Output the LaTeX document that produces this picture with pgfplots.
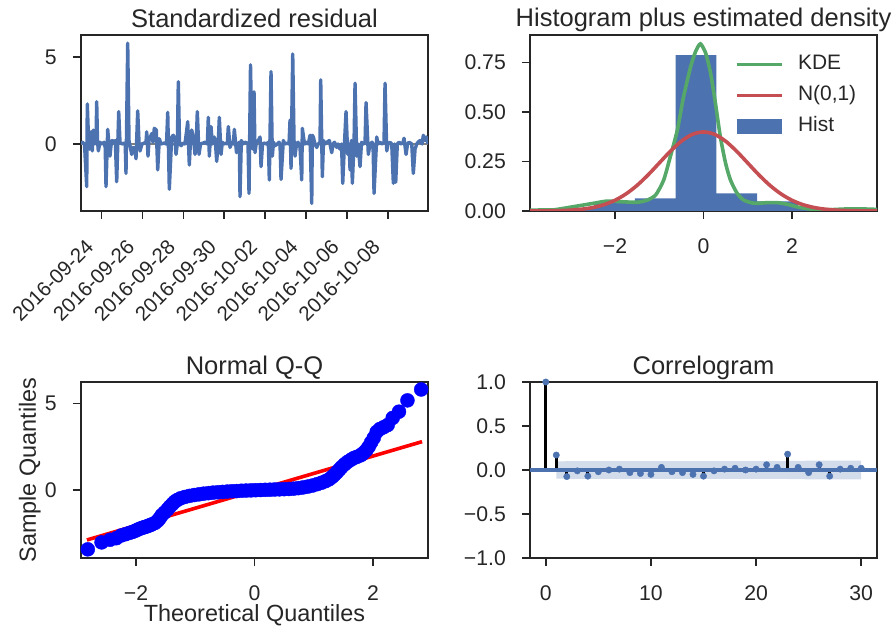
\documentclass[border=0pt]{standalone}
\usepackage{pgfplots}
\pgfplotsset{compat=1.18}
\usepackage{pgfplotstable}
\usepackage{fontspec}
\setmainfont{Liberation Sans}
\definecolor{sbblue}{HTML}{4C72B0}
\definecolor{sbgreen}{HTML}{55A868}
\definecolor{sbred}{HTML}{C44E52}
\definecolor{txt}{HTML}{262626}

\pgfplotstableread{
x y
0.000 0.00
0.064 0.10
0.171 0.00
0.279 -2.45
0.308 2.30
0.367 0.30
0.425 -0.30
0.489 0.70
0.552 -0.40
0.601 0.80
0.660 0.00
0.733 0.10
0.767 2.43
0.806 0.20
0.846 -0.40
0.929 0.10
1.026 0.00
1.124 0.10
1.183 -0.20
1.222 -2.45
1.305 0.84
1.359 0.10
1.417 -0.70
1.466 -0.10
1.530 0.20
1.613 0.10
1.676 0.20
1.745 -2.17
1.843 1.86
1.906 0.10
2.004 0.00
2.102 0.05
2.160 0.00
2.199 -1.69
2.283 5.79
2.346 0.20
2.478 -0.60
2.556 -0.20
2.639 -0.30
2.688 -0.85
2.771 1.90
2.835 0.10
2.884 -0.40
2.981 0.00
3.079 0.05
3.177 0.10
3.211 0.70
3.275 -0.70
3.324 0.20
3.456 0.60
3.519 0.10
3.583 0.90
3.680 0.80
3.749 -1.49
3.827 0.30
3.910 0.00
4.057 0.05
4.179 0.00
4.238 1.82
4.316 -2.60
4.433 0.40
4.511 0.50
4.594 0.30
4.643 -0.60
4.707 0.00
4.756 3.58
4.814 0.10
4.888 -0.10
4.985 0.05
5.083 0.00
5.215 1.28
5.293 -1.21
5.352 0.20
5.411 0.80
5.489 0.40
5.572 -0.60
5.635 0.20
5.684 1.86
5.767 -0.60
5.841 0.00
5.963 0.05
6.061 0.10
6.173 0.00
6.222 1.53
6.271 -0.70
6.354 1.00
6.417 0.00
6.515 0.40
6.574 0.00
6.632 -1.00
6.711 0.20
6.760 1.53
6.843 -0.60
6.906 0.10
6.989 0.00
7.087 0.05
7.151 0.00
7.199 1.00
7.283 -0.20
7.380 0.10
7.444 0.00
7.493 0.84
7.600 -0.50
7.688 0.00
7.737 0.10
7.771 -3.03
7.835 0.20
7.918 0.00
8.016 0.10
8.113 0.05
8.162 0.00
8.211 -2.84
8.284 4.54
8.358 0.00
8.407 -0.30
8.456 3.00
8.504 -0.50
8.568 0.10
8.666 0.20
8.749 0.40
8.798 -1.30
8.871 0.00
8.944 0.05
9.076 0.00
9.154 0.10
9.203 -2.07
9.286 4.16
9.350 -0.70
9.409 0.10
9.482 -0.10
9.594 0.00
9.677 0.10
9.726 0.00
9.775 -2.04
9.888 0.20
9.971 0.00
10.068 0.05
10.166 0.00
10.215 1.37
10.264 -1.40
10.347 5.17
10.411 0.20
10.459 -0.70
10.533 0.00
10.606 0.10
10.704 -0.20
10.787 -2.07
10.816 0.90
10.899 0.20
10.948 0.00
11.046 0.10
11.109 0.00
11.193 0.50
11.276 -3.41
11.305 0.50
11.354 0.40
11.437 0.00
11.520 -0.20
11.598 0.00
11.681 0.10
11.715 3.68
11.794 -1.88
11.852 0.20
11.926 0.00
12.023 0.10
12.136 0.20
12.253 -0.50
12.317 0.00
12.390 0.10
12.497 -0.20
12.561 0.00
12.659 -0.30
12.732 0.00
12.791 -2.26
12.879 0.10
12.952 1.86
13.035 -0.60
13.099 0.00
13.148 -1.49
13.211 0.20
13.260 -2.26
13.343 0.00
13.392 3.49
13.475 -0.70
13.539 0.00
13.636 -1.30
13.710 0.10
13.783 0.00
13.881 0.05
13.930 2.38
14.042 -0.60
14.125 0.00
14.223 0.10
14.272 0.00
14.321 -2.84
14.453 0.40
14.516 0.00
14.614 0.10
14.712 0.00
14.809 0.10
14.858 3.49
14.942 -0.40
15.005 0.00
15.103 0.10
15.186 0.00
15.264 -2.26
15.323 0.00
15.381 -2.20
15.459 0.00
15.543 0.10
15.640 0.00
15.738 0.10
15.787 0.33
15.885 -0.60
15.958 0.00
16.031 0.10
16.163 0.00
16.241 -1.69
16.325 -0.30
16.408 0.00
16.471 0.10
16.569 0.20
16.667 0.00
16.730 0.50
16.813 0.20
16.877 0.40
16.945 0.10
16.958 0.00
}\resid

\pgfplotstableread{
x y
-2.815 -3.42
-2.583 -3.02
-2.440 -2.87
-2.334 -2.78
-2.250 -2.62
-2.180 -2.55
-2.118 -2.48
-2.063 -2.42
-2.013 -2.35
-1.970 -2.28
-1.929 -2.22
-1.891 -2.17
-1.855 -2.14
-1.822 -2.10
-1.791 -2.06
-1.761 -2.02
-1.733 -1.98
-1.680 -1.90
-1.632 -1.76
-1.600 -1.62
-1.566 -1.45
-1.520 -1.30
-1.469 -1.12
-1.430 -0.96
-1.384 -0.80
-1.350 -0.68
-1.308 -0.58
-1.250 -0.48
-1.176 -0.40
-1.100 -0.34
-1.020 -0.29
-0.940 -0.25
-0.860 -0.21
-0.780 -0.18
-0.700 -0.15
-0.620 -0.13
-0.540 -0.11
-0.460 -0.09
-0.380 -0.07
-0.300 -0.06
-0.220 -0.04
-0.140 -0.03
-0.060 -0.02
0.020 -0.01
0.100 0.00
0.180 0.01
0.260 0.02
0.340 0.03
0.420 0.04
0.500 0.05
0.580 0.06
0.660 0.08
0.740 0.11
0.820 0.15
0.900 0.20
0.980 0.26
1.060 0.34
1.130 0.42
1.200 0.51
1.260 0.62
1.310 0.75
1.350 0.88
1.390 1.02
1.430 1.17
1.470 1.32
1.520 1.48
1.570 1.62
1.630 1.75
1.680 1.85
1.733 1.92
1.791 2.00
1.822 2.08
1.855 2.18
1.891 2.31
1.929 2.50
1.970 2.75
2.013 3.00
2.063 3.35
2.118 3.52
2.180 3.62
2.250 3.75
2.334 4.16
2.440 4.52
2.583 5.17
2.815 5.80
}\qq

\pgfplotstableread{
x y
-3.92 0.004
-3.68 0.005
-3.38 0.006
-2.93 0.022
-2.48 0.039
-2.18 0.050
-1.88 0.047
-1.50 0.044
-1.27 0.055
-1.08 0.081
-0.90 0.156
-0.75 0.274
-0.59 0.409
-0.45 0.577
-0.29 0.728
-0.18 0.804
-0.07 0.843
0.05 0.796
0.16 0.695
0.27 0.543
0.38 0.375
0.50 0.240
0.61 0.156
0.76 0.089
0.91 0.055
1.14 0.039
1.44 0.042
1.67 0.042
1.89 0.034
2.19 0.017
2.57 0.006
2.90 0.007
3.20 0.010
3.50 0.011
3.92 0.008
}\kde

\pgfplotstableread{
x y
-3.92 0.0002
-3.75 0.0004
-3.50 0.0009
-3.25 0.0020
-3.00 0.0044
-2.75 0.0091
-2.50 0.0175
-2.25 0.0317
-2.00 0.0540
-1.75 0.0863
-1.50 0.1295
-1.25 0.1826
-1.00 0.2420
-0.75 0.3011
-0.50 0.3521
-0.25 0.3867
0.00 0.3989
0.25 0.3867
0.50 0.3521
0.75 0.3011
1.00 0.2420
1.25 0.1826
1.50 0.1295
1.75 0.0863
2.00 0.0540
2.25 0.0317
2.50 0.0175
2.75 0.0091
3.00 0.0044
3.25 0.0020
3.50 0.0009
3.75 0.0004
3.92 0.0002
}\norm

\pgfplotstableread{
lag acf
0 1.00
1 0.17
2 -0.075
3 -0.01
4 -0.07
5 -0.02
6 0.00
7 0.01
8 -0.03
9 -0.04
10 -0.05
11 0.03
12 -0.02
13 -0.03
14 -0.05
15 -0.07
16 -0.01
17 0.01
18 0.02
19 0.00
20 0.01
21 0.06
22 0.03
23 0.18
24 0.03
25 -0.03
26 0.06
27 -0.07
28 0.01
29 0.02
30 0.02
}\acf

\pgfplotsset{
  lineleg/.style={legend image code/.code={\draw[##1] (0bp,0bp) -- (45bp,0bp); \path (58bp,0bp);}},
  boxleg/.style={legend image code/.code={\fill[##1] (0bp,-7.5bp) rectangle (45bp,7.5bp); \path (58bp,0bp);}},
  diag/.style={
    scale only axis, width=347bp, height=176bp, anchor=south west,
    axis line style={txt, line width=1.6bp},
    tick style={txt, line width=1.6bp},
    major tick length=8bp,
    tick align=outside,
    xtick pos=lower, ytick pos=left,
    tick label style={font=\fontsize{21.3}{25}\selectfont, text=txt},
    yticklabel style={anchor=east, inner sep=0pt, xshift=-16bp},
    every axis title/.style={at={(axis description cs:0.5,1)}, anchor=base, yshift=8bp,
      font=\fontsize{25.6}{30}\selectfont, text=txt},
    every axis x label/.style={at={(axis description cs:0.5,0)}, anchor=base, yshift=-63.5bp,
      font=\fontsize{23.5}{28}\selectfont, text=txt},
    every axis y label/.style={at={([xshift=-45bp]axis description cs:0,0.5)}, anchor=base, rotate=90,
      font=\fontsize{23.5}{28}\selectfont, text=txt},
  }
}

\begin{document}
\begin{tikzpicture}
\useasboundingbox (0,0) rectangle (894bp,628bp);

% Standardized residual
\begin{axis}[diag, at={(81bp,417bp)},
  title={Standardized residual},
  xmin=0, xmax=16.958, ymin=-3.85, ymax=6.26,
  xtick={1,3,5,7,9,11,13,15},
  xticklabels={2016-09-24,2016-09-26,2016-09-28,2016-09-30,2016-10-02,2016-10-04,2016-10-06,2016-10-08},
  xticklabel style={font=\fontsize{20.5}{24}\selectfont, xshift=-16.9bp, yshift=-19.3bp, rotate=45, anchor=north east, inner sep=0pt},
  ytick={0,5}, yticklabels={0,5},
]
\addplot[gray, line width=2.4bp] coordinates {(0,0) (16.958,0)};
\addplot[sbblue, line width=3.4bp, line join=round] table[x=x, y=y] {\resid};
\end{axis}

% Histogram plus estimated density
\begin{axis}[diag, at={(530bp,417bp)},
  title={Histogram plus estimated density},
  xmin=-3.92, xmax=3.92, ymin=0, ymax=0.888,
  xtick={-2,0,2}, xticklabels={−2,0,2},
  xticklabel style={anchor=north, inner sep=0pt, yshift=-19bp},
  ytick={0,0.25,0.5,0.75}, yticklabels={0.00,0.25,0.50,0.75},
  legend style={draw=none, fill=none, at={(0.583,0.905)}, anchor=north west,
    font=\fontsize{21}{25}\selectfont, text=txt, row sep=10bp,
    nodes={inner sep=1bp, text height=15bp, text depth=4bp}},
  legend cell align=left,
]
\addplot[ybar interval, fill=sbblue, draw=none, forget plot] coordinates {
  (-3.39,0.013) (-2.47,0.044) (-1.55,0.064) (-0.63,0.787) (0.29,0.089)
  (1.21,0.048) (2.13,0.013) (3.05,0.011) (3.97,0.005) (4.89,0.005) (5.81,0)};
\addplot[sbgreen, line width=3.6bp, smooth, tension=0.4, forget plot] table[x=x, y=y] {\kde};
\addplot[sbred, line width=3.6bp, smooth, forget plot] table[x=x, y=y] {\norm};
\addlegendimage{sbgreen, line width=3.6bp, lineleg}
\addlegendentry{KDE}
\addlegendimage{sbred, line width=3.6bp, lineleg}
\addlegendentry{N(0,1)}
\addlegendimage{fill=sbblue, draw=none, boxleg}
\addlegendentry{Hist}
\end{axis}

% Normal Q-Q
\begin{axis}[diag, at={(81bp,70bp)},
  title={Normal Q-Q},
  xlabel={Theoretical Quantiles}, ylabel={Sample Quantiles},
  xmin=-2.93, xmax=2.93, ymin=-3.92, ymax=6.23,
  xtick={-2,0,2}, xticklabels={−2,0,2},
  xticklabel style={anchor=north, inner sep=0pt, yshift=-19bp},
  ytick={0,5}, yticklabels={0,5},
]
\addplot[only marks, mark=*, mark size=7bp, color=blue, fill=blue] table[x=x, y=y] {\qq};
\addplot[red, line width=3.6bp] coordinates {(-2.83,-2.88) (2.83,2.79)};
\end{axis}

% Correlogram
\begin{axis}[diag, at={(530bp,70bp)},
  title={Correlogram},
  xmin=-1.5, xmax=31.5, ymin=-1, ymax=1,
  xtick={0,10,20,30}, xticklabels={0,10,20,30},
  xticklabel style={anchor=north, inner sep=0pt, yshift=-19bp},
  ytick={-1,-0.5,0,0.5,1}, yticklabels={−1.0,−0.5,0.0,0.5,1.0},
]
\addplot[fill=sbblue, fill opacity=0.25, draw=none] coordinates {
  (1,0.097) (2,0.100) (5,0.100) (10,0.101) (15,0.101) (20,0.102) (23,0.102) (24,0.105) (30,0.106)
  (30,-0.106) (24,-0.105) (23,-0.102) (20,-0.102) (15,-0.101) (10,-0.101) (5,-0.100) (2,-0.100) (1,-0.097)} -- cycle;
\addplot[ycomb, black, line width=2.8bp] table[x=lag, y=acf] {\acf};
\addplot[sbblue, line width=3.2bp] coordinates {(-1.5,0) (31.5,0)};
\addplot[only marks, mark=*, mark size=3.2bp, color=sbblue] table[x=lag, y=acf] {\acf};
\end{axis}
\end{tikzpicture}
\end{document}
